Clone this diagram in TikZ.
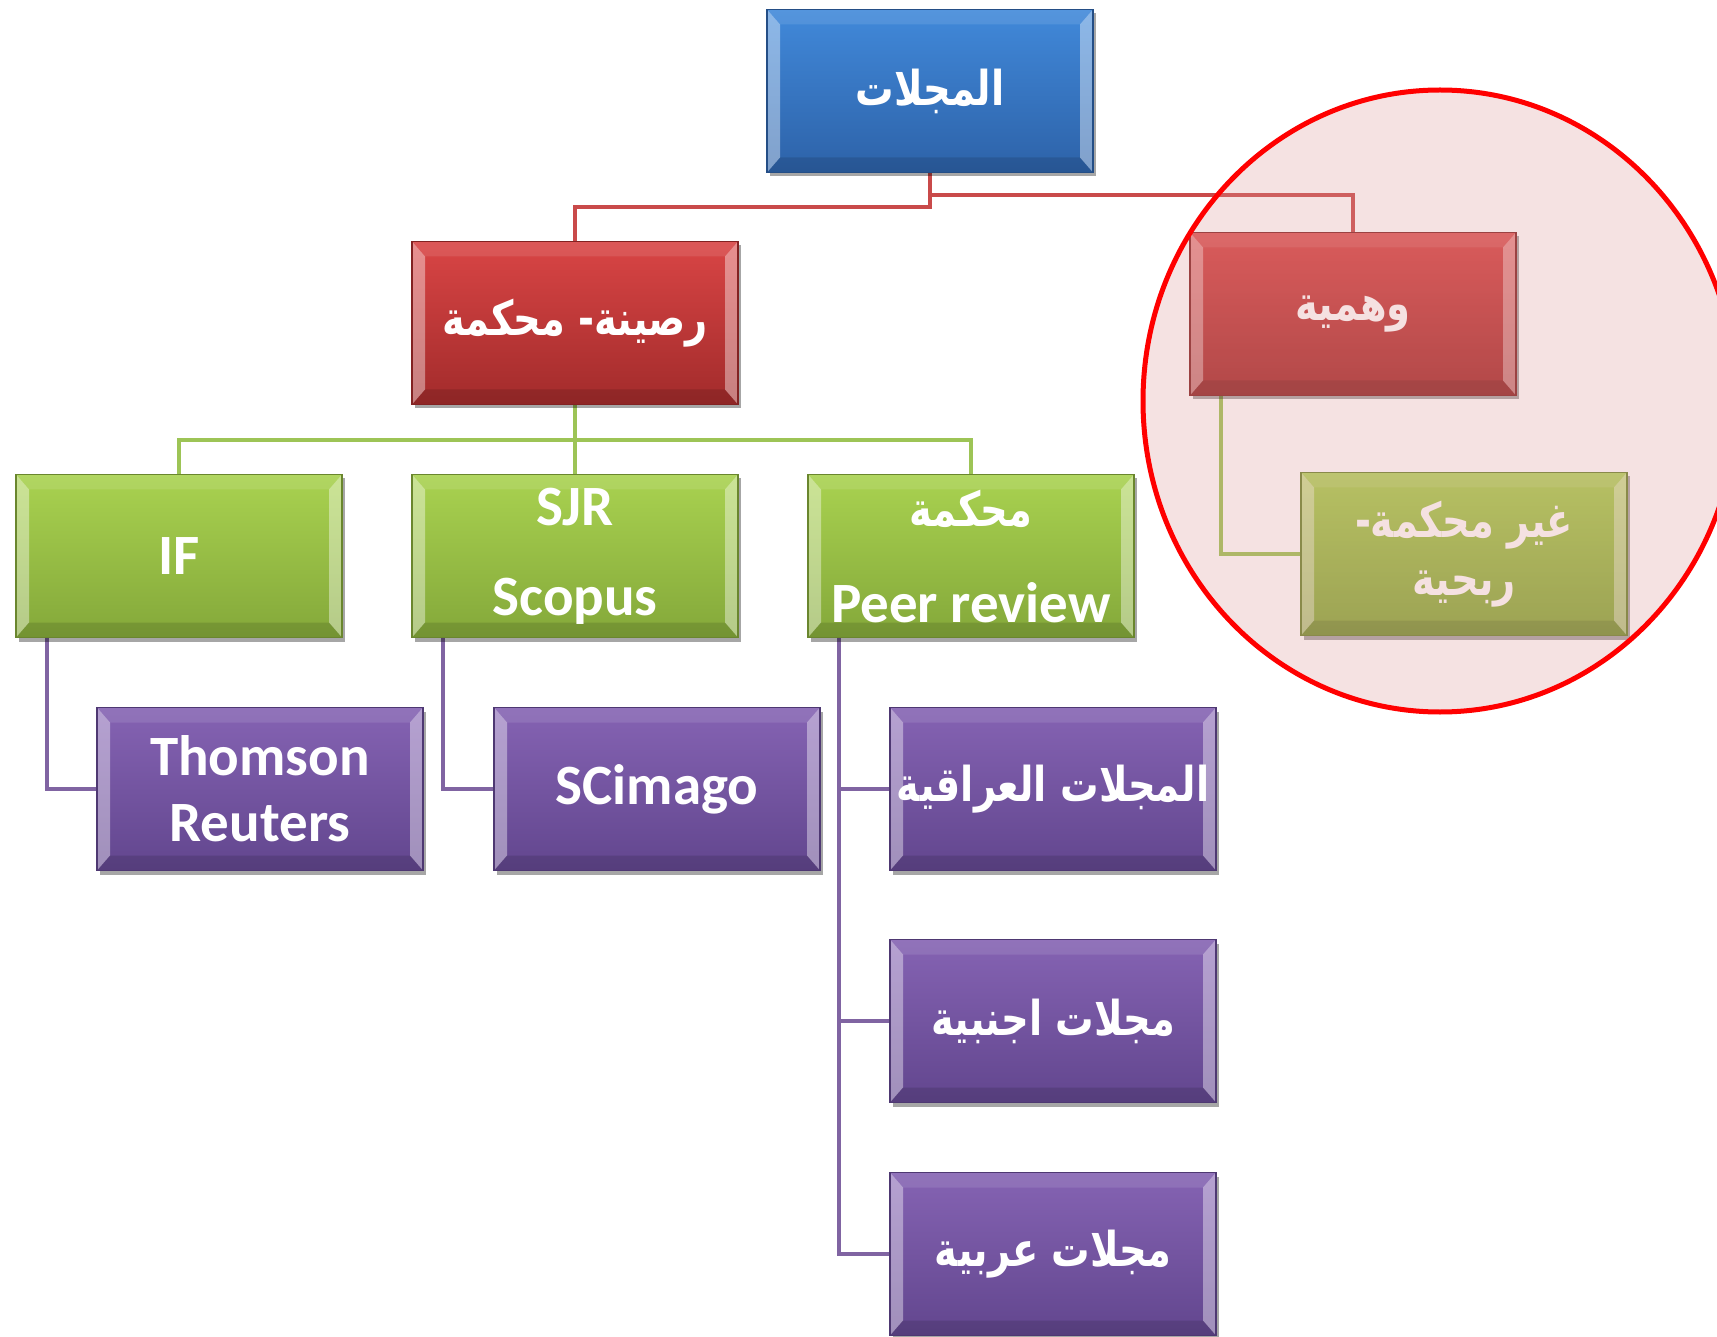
\documentclass[tikz,border=0pt]{standalone}
\usepackage{fontspec}
\setmainfont{Carlito}
\newfontfamily\arabicfont[Script=Arabic, FakeStretch=0.8]{DejaVu Sans}
\TeXXeTstate=1
\usepackage{xcolor}
\usetikzlibrary{shadows,backgrounds}

\definecolor{blueTop}{HTML}{4189DA}
\definecolor{blueBot}{HTML}{2D62A8}
\definecolor{redTop}{HTML}{D94545}
\definecolor{redBot}{HTML}{A22B2B}
\definecolor{greenTop}{HTML}{A9D250}
\definecolor{greenBot}{HTML}{84A83A}
\definecolor{purpleTop}{HTML}{8563B3}
\definecolor{purpleBot}{HTML}{62468E}
\definecolor{redLink}{HTML}{C94A4A}
\definecolor{greenLink}{HTML}{9DC456}
\definecolor{purpleLink}{HTML}{8064A2}
\definecolor{haloFill}{RGB}{220,150,150}

\tikzset{
  orgbox/.style 2 args={rectangle, minimum width=326pt, minimum height=163pt, inner sep=0pt,
    draw=#2!80!black, line width=1.2pt, top color=#1, bottom color=#2, text=white, align=center,
    drop shadow={shadow xshift=3pt, shadow yshift=-4pt, opacity=.35, fill=black},
    path picture={
      \fill[white, opacity=.4] (path picture bounding box.north west) -- ([xshift=13pt,yshift=-15pt]path picture bounding box.north west)
        -- ([xshift=13pt,yshift=15pt]path picture bounding box.south west) -- (path picture bounding box.south west) -- cycle;
      \fill[white, opacity=.4] (path picture bounding box.north east) -- ([xshift=-13pt,yshift=-15pt]path picture bounding box.north east)
        -- ([xshift=-13pt,yshift=15pt]path picture bounding box.south east) -- (path picture bounding box.south east) -- cycle;
      \fill[white, opacity=.10] (path picture bounding box.north west) -- ([xshift=13pt,yshift=-15pt]path picture bounding box.north west)
        -- ([xshift=-13pt,yshift=-15pt]path picture bounding box.north east) -- (path picture bounding box.north east) -- cycle;
      \fill[black, opacity=.12] (path picture bounding box.south west) -- ([xshift=13pt,yshift=15pt]path picture bounding box.south west)
        -- ([xshift=-13pt,yshift=15pt]path picture bounding box.south east) -- (path picture bounding box.south east) -- cycle;
    }},
  bluebox/.style={orgbox={blueTop}{blueBot}},
  redbox/.style={orgbox={redTop}{redBot}},
  greenbox/.style={orgbox={greenTop}{greenBot}},
  purplebox/.style={orgbox={purpleTop}{purpleBot}},
  latin/.style={font=\fontsize{57}{66}\selectfont\bfseries},
  arabic/.style={font=\arabicfont\fontsize{48}{58}\selectfont\bfseries},
  link/.style={draw=#1, line width=4pt},
}

\begin{document}
\begin{tikzpicture}[x=1pt, y=-1pt]
  \path[use as bounding box, clip] (0,0) rectangle (1717,1337);

  % Boxes
  \node[bluebox, arabic] (journals) at (930,91) {\beginR المجلات\endR};
  \node[redbox, arabic] (solid) at (575,323) {\beginR رصينة- محكمة\endR};
  \node[redbox, arabic] (fake) at (1353,314) {\beginR وهمية\endR};

  \node[greenbox, latin] (if) at (179,556) {IF};
  \node[greenbox, latin] (sjr) at (575,556) {SJR\\[24pt]Scopus};
  \node[greenbox, latin] (peer) at (971,556) {{\arabicfont\fontsize{48}{58}\selectfont\beginR محكمة\endR}\\[30pt]Peer review};
  \node[greenbox, arabic] (profit) at (1464,554) {\beginR غير محكمة-\endR\\\beginR ربحية\endR};

  \node[purplebox, latin] (thomson) at (260,789) {Thomson\\Reuters};
  \node[purplebox, latin] (scimago) at (657,789) {SCimago};
  \node[purplebox, arabic] (iraqi) at (1053,789) {\beginR المجلات العراقية\endR};
  \node[purplebox, arabic] (foreign) at (1053,1021) {\beginR مجلات اجنبية\endR};
  \node[purplebox, arabic] (arab) at (1053,1254) {\beginR مجلات عربية\endR};

  % Connectors
  \begin{scope}[on background layer]
    \draw[link=redLink] (journals.south) -- ++(0,34) -| (solid.north);
    \draw[link=redLink] ([yshift=-22pt]journals.south) -| (fake.north);
    \foreach \b in {if,sjr,peer}
      \draw[link=greenLink] (solid.south) -- ++(0,35) -| (\b.north);
    \draw[link=greenLink] ([xshift=32pt]fake.south west) |- (profit.west);
    \draw[link=purpleLink] ([xshift=32pt]if.south west) |- (thomson.west);
    \draw[link=purpleLink] ([xshift=32pt]sjr.south west) |- (scimago.west);
    \foreach \b in {iraqi,foreign,arab}
      \draw[link=purpleLink] ([xshift=32pt]peer.south west) |- (\b.west);
  \end{scope}

  % Highlight round the fake journals
  \fill[haloFill, opacity=.28] (1440,401) ellipse [x radius=297, y radius=311];
  \draw[red, line width=5pt] (1440,401) ellipse [x radius=297, y radius=311];
\end{tikzpicture}
\end{document}
